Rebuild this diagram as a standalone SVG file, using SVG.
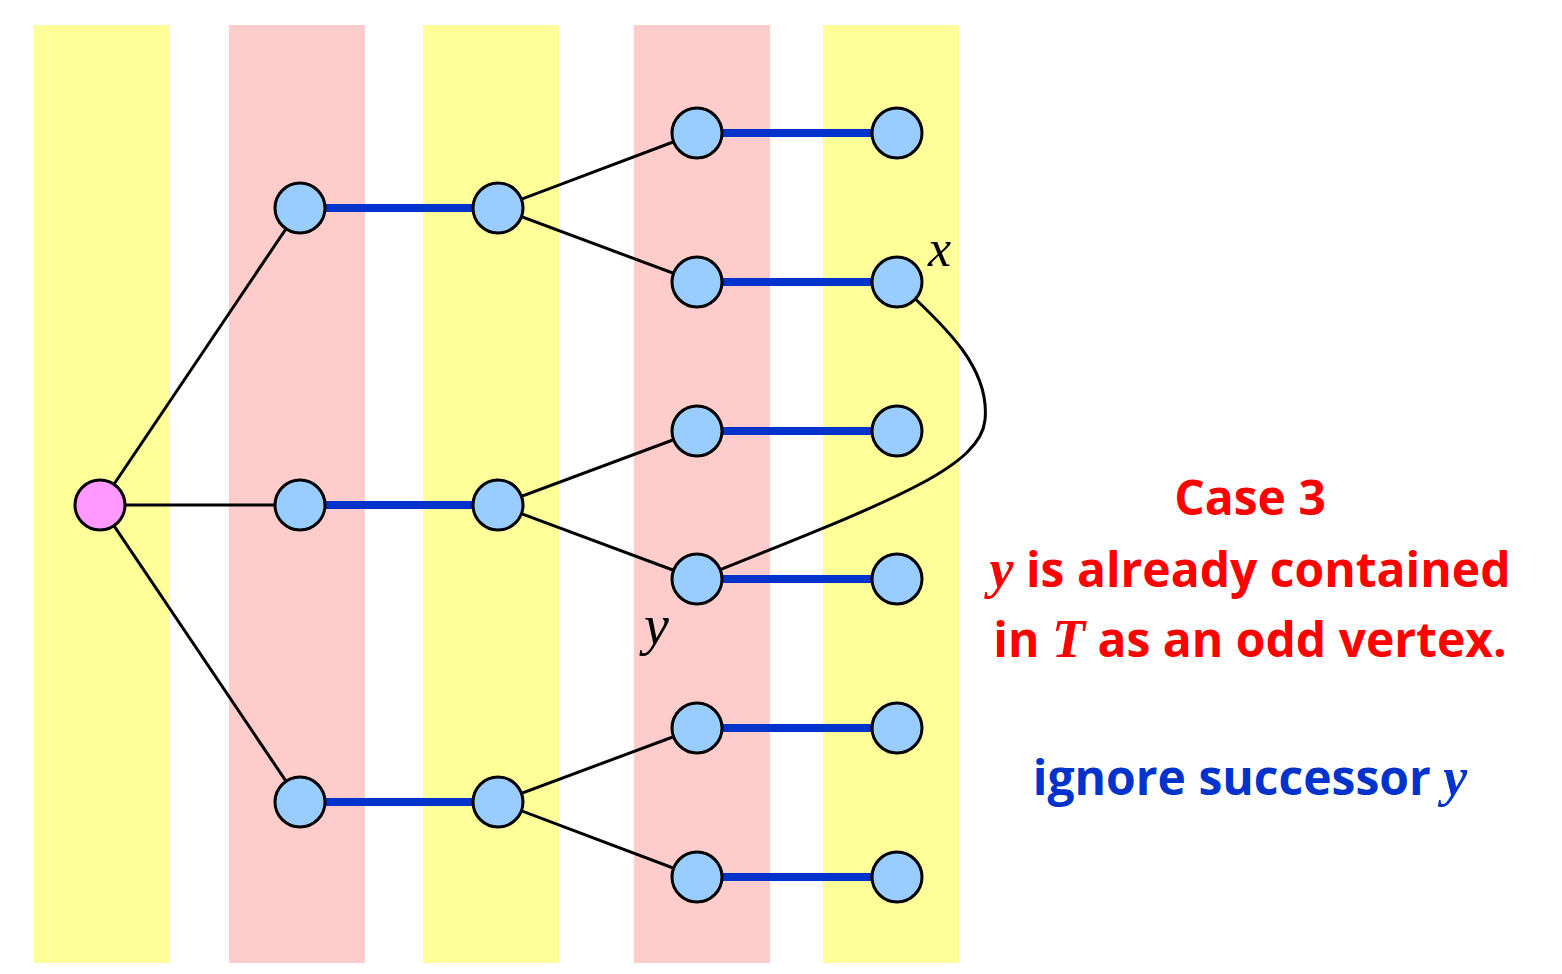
<svg xmlns="http://www.w3.org/2000/svg" width="1562" height="974" viewBox="0 0 1562 974">
<style>
.by{fill:#FFFF99}
.bp{fill:#FFCCCC}
.n{fill:#99CCFF;stroke:#000;stroke-width:3}
.r{fill:#FF99FF;stroke:#000;stroke-width:3}
.e{stroke:#000;stroke-width:3;fill:none}
.m{stroke:#0033CC;stroke-width:8;fill:none}
.t{font-family:"Open Sans",Lato,"Liberation Sans",sans-serif;font-weight:bold;font-size:48px;text-anchor:middle}
.i{font-family:"Liberation Serif",serif;font-style:italic;font-weight:normal}
.ib{font-family:"Liberation Serif",serif;font-style:italic;font-weight:bold}
</style>
<rect width="1562" height="974" fill="#fff"/>
<g id="bands">
<rect class="by" x="34" y="25" width="136" height="938"/>
<rect class="bp" x="229" y="25" width="136" height="938"/>
<rect class="by" x="423" y="25" width="136" height="938"/>
<rect class="bp" x="634" y="25" width="136" height="938"/>
<rect class="by" x="823" y="25" width="136" height="938"/>
</g>
<g id="connectors">
<line class="e" x1="100" y1="505" x2="300" y2="208"/>
<line class="e" x1="100" y1="505" x2="300" y2="505"/>
<line class="e" x1="100" y1="505" x2="300" y2="802"/>
<line class="m" x1="300" y1="208" x2="498" y2="208"/>
<line class="m" x1="300" y1="505" x2="498" y2="505"/>
<line class="m" x1="300" y1="802" x2="498" y2="802"/>
<line class="e" x1="498" y1="208" x2="697" y2="133"/>
<line class="e" x1="498" y1="208" x2="697" y2="282"/>
<line class="e" x1="498" y1="505" x2="697" y2="431"/>
<line class="e" x1="498" y1="505" x2="697" y2="579"/>
<line class="e" x1="498" y1="802" x2="697" y2="728"/>
<line class="e" x1="498" y1="802" x2="697" y2="877"/>
<line class="m" x1="697" y1="133" x2="897" y2="133"/>
<line class="m" x1="697" y1="282" x2="897" y2="282"/>
<line class="m" x1="697" y1="431" x2="897" y2="431"/>
<line class="m" x1="697" y1="579" x2="897" y2="579"/>
<line class="m" x1="697" y1="728" x2="897" y2="728"/>
<line class="m" x1="697" y1="877" x2="897" y2="877"/>
<path class="e" d="M 897,282 C 950,330 990,370 985,420 C 980,470 880,505 697,579"/>
</g>
<g id="root"><circle class="r" cx="100" cy="505" r="25"/></g>
<g id="a1"><circle class="n" cx="300" cy="208" r="25"/></g>
<g id="a2"><circle class="n" cx="300" cy="505" r="25"/></g>
<g id="a3"><circle class="n" cx="300" cy="802" r="25"/></g>
<g id="b1"><circle class="n" cx="498" cy="208" r="25"/></g>
<g id="b2"><circle class="n" cx="498" cy="505" r="25"/></g>
<g id="b3"><circle class="n" cx="498" cy="802" r="25"/></g>
<g id="c1"><circle class="n" cx="697" cy="133" r="25"/></g>
<g id="c2"><circle class="n" cx="697" cy="282" r="25"/></g>
<g id="c3"><circle class="n" cx="697" cy="431" r="25"/></g>
<g id="c4"><circle class="n" cx="697" cy="579" r="25"/></g>
<g id="c5"><circle class="n" cx="697" cy="728" r="25"/></g>
<g id="c6"><circle class="n" cx="697" cy="877" r="25"/></g>
<g id="d1"><circle class="n" cx="897" cy="133" r="25"/></g>
<g id="d2"><circle class="n" cx="897" cy="282" r="25"/></g>
<g id="d3"><circle class="n" cx="897" cy="431" r="25"/></g>
<g id="d4"><circle class="n" cx="897" cy="579" r="25"/></g>
<g id="d5"><circle class="n" cx="897" cy="728" r="25"/></g>
<g id="d6"><circle class="n" cx="897" cy="877" r="25"/></g>
<g id="labels">
<text class="i" x="928" y="266" font-size="52" fill="#000">x</text>
<text class="i" x="644" y="644" font-size="56" fill="#000">y</text>
<text class="t" x="1250" y="515" fill="#FF0000">Case 3</text>
<text class="t" x="1250" y="587" fill="#FF0000"><tspan class="ib" font-size="54">y</tspan> is already contained</text>
<text class="t" x="1250" y="657" fill="#FF0000">in <tspan class="ib" font-size="54">T</tspan> as an odd vertex.</text>
<text class="t" x="1250" y="795" fill="#0033CC">ignore successor <tspan class="ib" font-size="54">y</tspan></text>
</g>
</svg>
